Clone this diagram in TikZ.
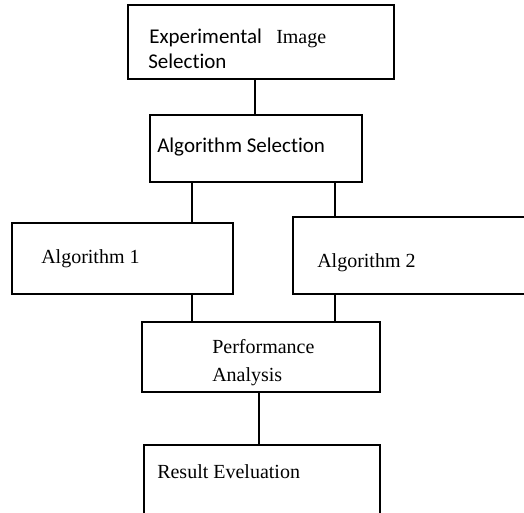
\documentclass[tikz,border=0pt]{standalone}
\usepackage{fontspec}
\setmainfont{Liberation Serif}
\newfontfamily\calfont[Ligatures={NoCommon}]{Carlito}
\begin{document}
\begin{tikzpicture}[x=0.75pt,y=-0.75pt,
        box/.style={draw,line width=0.9pt,rectangle,inner sep=0pt},
        txt/.style={anchor=base west,inner sep=0pt,font=\fontsize{15}{18}\selectfont},
        ctxt/.style={anchor=base west,inner sep=0pt,font=\calfont\fontsize{15.75}{19}\selectfont},
        link/.style={line width=0.9pt}]
                    \clip (0,0) rectangle (524,512);
                    % boxes
                    \node[box,minimum width=199.5pt,minimum height=55.5pt]  (imgsel)  at (261,42)    {};
                    \node[box,minimum width=159pt,minimum height=50.25pt]   (algsel)  at (256,148.5) {};
                    \node[box,minimum width=165.75pt,minimum height=53.25pt] (algone) at (122.5,258.5) {};
                    \node[box,minimum width=177.75pt,minimum height=57.75pt] (algtwo) at (411.5,255.5) {};
                    \node[box,minimum width=178.5pt,minimum height=52.5pt]  (perf)    at (261,357)   {};
                    \node[box,minimum width=177pt,minimum height=63.75pt]   (result)  at (262,487.5) {};
                    % texts
                    \node[ctxt] (expt)  at (149,43)  {Experimental};
                    \node[txt]  (imgt)  at (276,43)  {Image};
                    \node[ctxt] (selt)  at (148,68)  {Selection};
                    \node[ctxt] (algt)  at (157,152) {Algorithm Selection};
                    \node[txt]  (onet)  at (41,263)  {Algorithm 1};
                    \node[txt]  (twot)  at (317,267) {Algorithm 2};
                    \node[txt]  (perft) at (212,353) {Performance};
                    \node[txt]  (anat)  at (212,381) {Analysis};
                    \node[txt]  (rest)  at (157,478) {Result Eveluation};
                    % connectors
                    \coordinate (xa) at (255,0);
                    \coordinate (xb) at (192,0);
                    \coordinate (xc) at (335,0);
                    \coordinate (xd) at (259,0);
                    \draw[link] (imgsel.south -| xa) -- (algsel.north -| xa);
                    \draw[link] (algsel.south -| xb) -- (algone.north -| xb);
                    \draw[link] (algsel.south -| xc) -- (algtwo.north -| xc);
                    \draw[link] (algone.south -| xb) -- (perf.north -| xb);
                    \draw[link] (algtwo.south -| xc) -- (perf.north -| xc);
                    \draw[link] (perf.south -| xd) -- (result.north -| xd);
                \end{tikzpicture}
\end{document}
